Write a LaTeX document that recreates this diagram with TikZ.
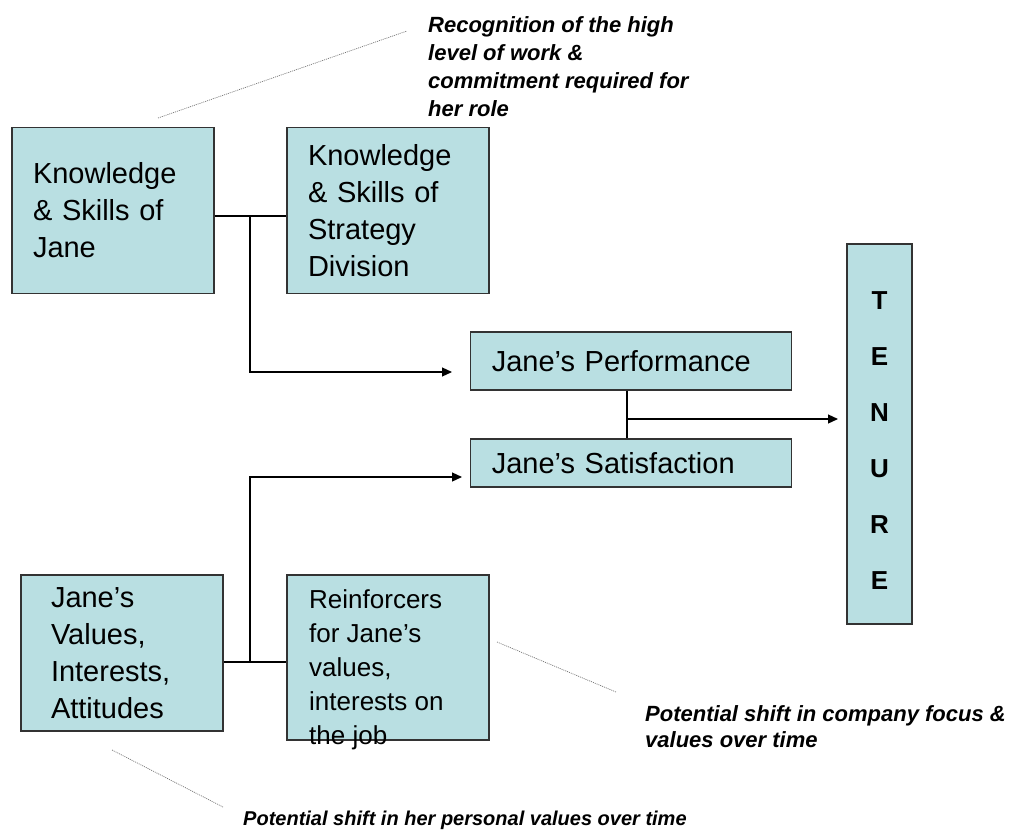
\documentclass[tikz,border=0pt]{standalone}
\usepackage{fontspec}
\setmainfont{Liberation Sans}
\usepackage{tikz}
\usetikzlibrary{positioning, arrows.meta}
\definecolor{boxteal}{RGB}{185,223,226}
\tikzset{
  tealbox/.style={rectangle, draw=black!80, line width=1.2pt,
                  fill=boxteal, inner ysep=0pt, inner xsep=21pt,
                  align=left, font=\fontsize{29}{37}\selectfont},
  boxtext/.style={anchor=north west, inner sep=0pt, align=left,
                  font=\fontsize{26}{34}\selectfont},
  notetext/.style={anchor=north west, inner sep=0pt, align=left,
                   font=\fontsize{22}{28}\selectfont\bfseries\itshape},
  myline/.style={line width=1.2pt, draw=black},
  myarr/.style={-{Triangle[length=10pt, width=9pt]}, line width=1.2pt, draw=black},
  pointer/.style={draw=black!55, line width=0.7pt, dash pattern=on 1pt off 1pt},
}

\begin{document}
\begin{tikzpicture}[x=1pt, y=-1pt]

  \useasboundingbox (0,0) rectangle (1013,833);

  \node[tealbox, minimum width=202pt, minimum height=166pt,
        text width=160pt] (kjane) at (113,210.5)
        {Knowledge\\\& Skills of\\Jane};
  \node[tealbox, minimum width=202pt, minimum height=166pt,
        text width=160pt] (ksdiv) at (388,210.5)
        {Knowledge\\\& Skills of\\Strategy\\Division};

  \node[tealbox, minimum width=321pt, minimum height=58pt,
        text width=279pt] (perf) at (631.3,361) {Jane’s Performance};
  \node[tealbox, minimum width=321pt, minimum height=48pt,
        text width=279pt] (sat) at (631.3,463) {Jane’s Satisfaction};

  \node[tealbox, minimum width=65pt, minimum height=380pt, inner xsep=0pt,
        align=center, font=\fontsize{26}{56}\selectfont\bfseries]
        (tenure) at (879.5,434) {\rule{0pt}{31pt}T\\E\\N\\U\\R\\E};

  \node[tealbox, minimum width=202pt, minimum height=156pt, inner xsep=30pt,
        text width=142pt] (vals) at (122,653)
        {Jane’s\\Values,\\Interests,\\Attitudes};
  \node[tealbox, minimum width=202pt, minimum height=165pt] (reinf) at (388,657.5) {};
  \node[boxtext] (reinftxt) at (309,589)
        {Reinforcers\\for Jane’s\\values,\\interests on\\the job};

  % notes
  \node[notetext] (recog) at (428,16)
        {Recognition of the high\\level of work \&\\commitment required for\\her role};
  \node[notetext, font=\fontsize{22}{26}\selectfont\bfseries\itshape] (compshift) at (645,705)
        {Potential shift in company focus \&\\values over time};
  \node[notetext, font=\fontsize{20}{24}\selectfont\bfseries\itshape] (hershift) at (243,811)
        {Potential shift in her personal values over time};

  \coordinate (topjoin) at (250,216);
  \coordinate (perfin)  at (452,372);
  \coordinate (botjoin) at (250,662);
  \coordinate (satin)   at (462,477);
  \coordinate (midjoin) at (627,419);
  \coordinate (tenin)   at (838,419);

  \draw[myline] (kjane.east |- topjoin) -- (ksdiv.west |- topjoin);
  \draw[myarr]  (topjoin) |- (perfin);
  \draw[myline] (vals.east |- botjoin) -- (reinf.west |- botjoin);
  \draw[myarr]  (botjoin) |- (satin);
  \draw[myline] (perf.south -| midjoin) -- (sat.north -| midjoin);
  \draw[myarr]  (midjoin) -- (tenin);

  % dotted pointers to the notes
  \coordinate (kjtip)    at (158,118);
  \coordinate (recogtip) at (407,31);
  \coordinate (valstip)  at (112,750);
  \coordinate (hertip)   at (223,807);
  \coordinate (reinftip) at (497,642);
  \coordinate (comptip)  at (616,692);
  \draw[pointer] (kjtip) -- (recogtip);
  \draw[pointer] (valstip) -- (hertip);
  \draw[pointer] (reinftip) -- (comptip);

\end{tikzpicture}
\end{document}
